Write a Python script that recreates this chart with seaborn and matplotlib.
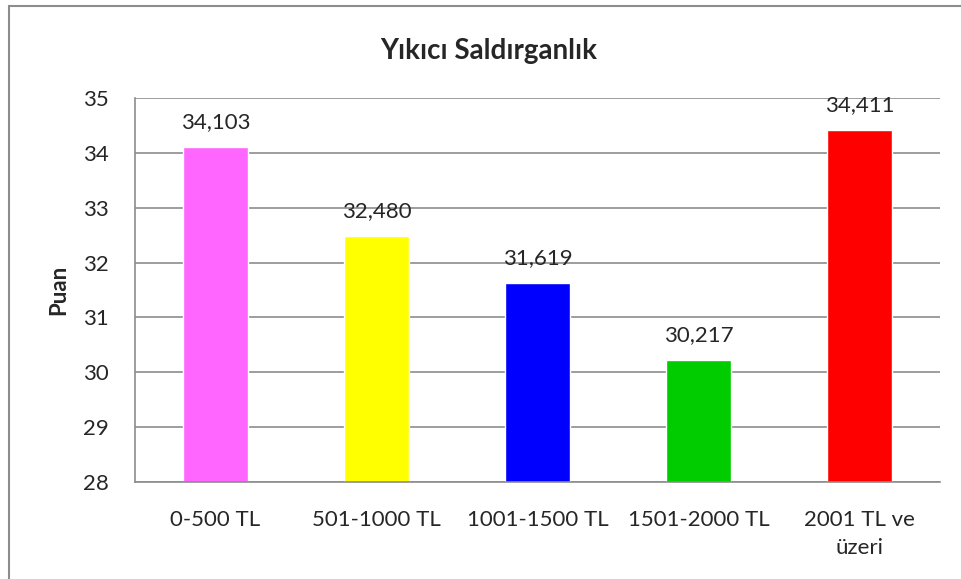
import matplotlib
matplotlib.use("Agg")
import matplotlib.pyplot as plt
import pandas as pd
import seaborn as sns
from matplotlib.patches import Rectangle

categories = ["0-500 TL", "501-1000 TL", "1001-1500 TL", "1501-2000 TL", "2001 TL ve\nüzeri"]
scores = [34.103, 32.480, 31.619, 30.217, 34.411]
bar_colors = ["#FF66FF", "#FFFF00", "#0000FF", "#00CC00", "#FF0000"]
y_ticks = [28, 29, 30, 31, 32, 33, 34, 35]

sns.set_style("white")
plt.rcParams["font.family"] = ["Lato", "DejaVu Sans"]

df = pd.DataFrame({"gelir": categories, "puan": scores})

fig = plt.figure(figsize=(9.61, 5.79), dpi=100)
ax = fig.add_axes([0.1405, 0.1675, 0.8375, 0.6632])

sns.barplot(data=df, x="gelir", y="puan", hue="gelir", palette=bar_colors,
            width=0.4, legend=False, ax=ax, saturation=1)

ax.set_ylim(28, 35)
ax.set_yticks(y_ticks)
ax.set_xlim(-0.5, len(categories) - 0.5)
ax.yaxis.grid(True, color="#8c8c8c", linewidth=1.2)
ax.set_axisbelow(True)
for side in ["top", "right"]:
    ax.spines[side].set_visible(False)
for side in ["left", "bottom"]:
    ax.spines[side].set_color("#8c8c8c")
    ax.spines[side].set_linewidth(1.2)
ax.tick_params(axis="both", length=0, labelsize=16)
ax.tick_params(axis="y", pad=19)
ax.tick_params(axis="x", pad=20)
for lbl in ax.get_xticklabels():
    lbl.set_linespacing(1.5)
ax.set_xlabel("")
ax.set_ylabel("Puan", fontsize=16, fontweight="bold", labelpad=10)

for i, v in enumerate(scores):
    ax.annotate(f"{v:.3f}".replace(".", ","), (i, v), xytext=(0, 11),
                textcoords="offset points", ha="center", va="bottom", fontsize=16)

fig.suptitle("Yıkıcı Saldırganlık", x=0.509, y=0.935, fontsize=20, fontweight="bold")

# outer chart frame
fig.patches.append(Rectangle((9 / 961, -0.05), 1.0, 1.05 - 6 / 579, transform=fig.transFigure,
                             fill=False, edgecolor="#8c8c8c", linewidth=1.5))

fig.savefig("out.png", dpi=100)
